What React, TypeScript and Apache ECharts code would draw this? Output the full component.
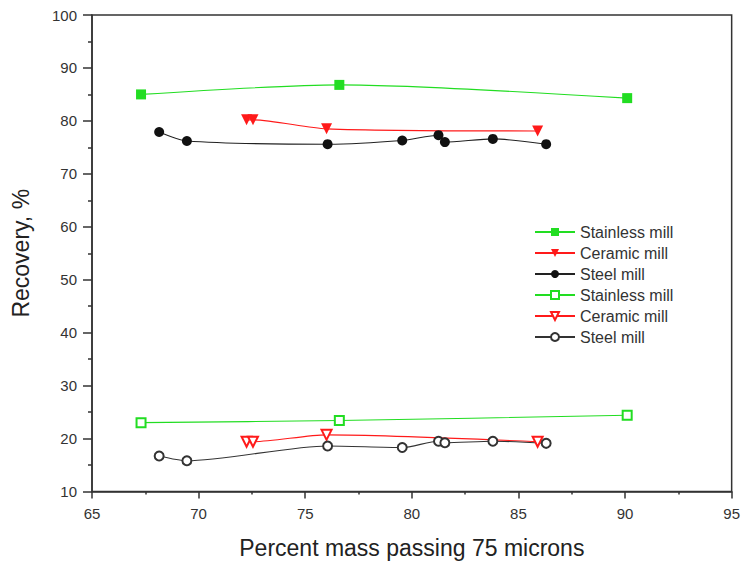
import React, { useEffect, useRef } from "react";
import * as echarts from "echarts";

const xStainless = [67.3, 76.6, 90.1];
const stainlessFilled = [85.0, 86.8, 84.3];
const stainlessOpen = [23.0, 23.4, 24.4];

const xCeramic = [72.25, 72.55, 76.0, 85.9];
const ceramicFilled = [80.2, 80.2, 78.5, 78.1];
const ceramicOpen = [19.4, 19.4, 20.7, 19.4];

const xSteel = [68.15, 69.45, 76.05, 79.55, 81.25, 81.55, 83.8, 86.3];
const steelFilled = [77.9, 76.2, 75.6, 76.3, 77.3, 76.0, 76.6, 75.6];
const steelOpen = [16.7, 15.8, 18.6, 18.3, 19.5, 19.2, 19.5, 19.1];

const xTicks = [65, 70, 75, 80, 85, 90, 95];
const yTicks = [10, 20, 30, 40, 50, 60, 70, 80, 90, 100];

const pair = (xs: number[], ys: number[]) => xs.map((x, i) => [x, ys[i]]);

const GREEN = "#22dd22";
const RED = "#ff1a1a";
const BLACK = "#111111";
const FONT = "Liberation Sans, Arial, sans-serif";

export default function App() {
  const ref = useRef<HTMLDivElement>(null);
  useEffect(() => {
    if (!ref.current) return;
    const chart = echarts.init(ref.current, undefined, { renderer: "svg" });
    const mk = (
      name: string,
      data: number[][],
      color: string,
      symbol: string,
      size: number,
      rotate: number,
      lineColor: string
    ) => ({
      name,
      type: "line",
      data,
      smooth: 0.25,
      symbol,
      symbolSize: size,
      symbolRotate: rotate,
      showAllSymbol: true,
      lineStyle: { color: lineColor, width: 1.1 },
      itemStyle: {
        color,
        borderColor: color,
        borderWidth: symbol.startsWith("empty") ? 1.5 : 0,
      },
      z: 3,
    });
    chart.setOption({
      animation: false,
      textStyle: { fontFamily: FONT },
      grid: {
        left: 92,
        right: 10,
        top: 15,
        bottom: 75.5,
        show: true,
        borderColor: "#333",
        borderWidth: 1.5,
      },
      legend: {
        orient: "vertical",
        left: 529,
        top: 219,
        itemWidth: 40,
        itemHeight: 10,
        itemGap: 5,
        textStyle: { fontSize: 16, color: "#333", fontFamily: FONT },
        formatter: (n: string) => n.trim(),
        data: [
          "Stainless mill",
          "Ceramic mill",
          "Steel mill",
          "Stainless mill ",
          "Ceramic mill ",
          "Steel mill ",
        ],
      },
      xAxis: {
        type: "value",
        min: xTicks[0],
        max: xTicks[xTicks.length - 1],
        interval: 5,
        name: "Percent mass passing 75 microns",
        nameLocation: "middle",
        nameGap: 45,
        nameTextStyle: { fontSize: 23, color: "#222", fontFamily: FONT },
        axisLine: { lineStyle: { color: "#333", width: 1.5 } },
        axisTick: { show: true, length: 7, inside: false, lineStyle: { color: "#333", width: 1.5 } },
        minorTick: { show: true, splitNumber: 2, length: 3, lineStyle: { color: "#333", width: 1.5 } },
        axisLabel: { fontSize: 15, color: "#333", margin: 14, fontFamily: FONT },
        splitLine: { show: false },
      },
      yAxis: {
        type: "value",
        min: yTicks[0],
        max: yTicks[yTicks.length - 1],
        interval: 10,
        name: "Recovery, %",
        nameLocation: "middle",
        nameGap: 60,
        nameTextStyle: { fontSize: 23, color: "#222", fontFamily: FONT },
        axisLine: { show: true, lineStyle: { color: "#333", width: 1.5 } },
        axisTick: { show: true, length: 9, inside: false, lineStyle: { color: "#333", width: 1.5 } },
        minorTick: { show: true, splitNumber: 2, length: 4, lineStyle: { color: "#333", width: 1.5 } },
        axisLabel: { fontSize: 15, color: "#333", margin: 15, fontFamily: FONT },
        splitLine: { show: false },
      },
      series: [
        mk("Stainless mill", pair(xStainless, stainlessFilled), GREEN, "rect", 10, 0, GREEN),
        mk("Ceramic mill", pair(xCeramic, ceramicFilled), RED, "triangle", 11, 180, RED),
        mk("Steel mill", pair(xSteel, steelFilled), BLACK, "circle", 10, 0, "#222"),
        mk("Stainless mill ", pair(xStainless, stainlessOpen), GREEN, "emptyRect", 9, 0, GREEN),
        mk("Ceramic mill ", pair(xCeramic, ceramicOpen), RED, "emptyTriangle", 10, 180, RED),
        mk("Steel mill ", pair(xSteel, steelOpen), "#333", "emptyCircle", 9, 0, "#333"),
      ],
    });
    return () => chart.dispose();
  }, []);
  return (
    <div
      ref={ref}
      style={{ position: "fixed", left: 0, top: 0, width: 743, height: 567, background: "#fff" }}
    />
  );
}
